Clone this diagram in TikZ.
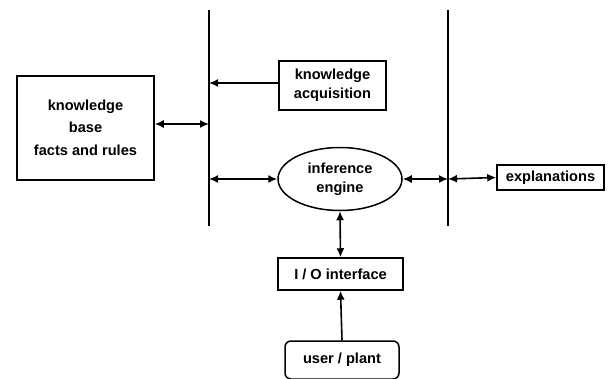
\documentclass[tikz,border=0pt]{standalone}
\usepackage{fontspec}
\setmainfont{Liberation Sans}
\usetikzlibrary{arrows.meta,shapes.geometric}
\begin{document}
\begin{tikzpicture}[x=1pt,y=-1pt,
  box/.style={draw,line width=1.5pt,inner sep=0pt,font=\bfseries\fontsize{14.6}{17}\selectfont,align=center},
  conn/.style={line width=1.6pt,-{Latex[length=9pt,width=8pt]}},
  dconn/.style={line width=1.6pt,{Latex[length=9pt,width=8pt]}-{Latex[length=9pt,width=8pt]}},
  bar/.style={line width=2.8pt}]
\useasboundingbox (0,0) rectangle (610,378);
\coordinate (L1) at (209,10);
\coordinate (L2) at (209,226);
\coordinate (R1) at (448,10);
\coordinate (R2) at (448,226);
\draw[bar] (L1) -- (L2);
\draw[bar] (R1) -- (R2);
\node[box,minimum width=137pt,minimum height=104pt] (kb) at (85.5,128) {knowledge\\[5pt]base\\[6pt]facts and rules};
\node[box,minimum width=107pt,minimum height=49pt] (ka) at (332.5,85.5) {knowledge\\[2pt]acquisition};
\node[box,ellipse,minimum width=124pt,minimum height=63pt] (ie) at (340,179) {inference\\[2pt]engine};
\node[box,minimum width=107pt,minimum height=25pt] (ex) at (550.5,177.5) {explanations};
\node[box,minimum width=125pt,minimum height=32pt] (io) at (340.5,274) {I / O interface};
\node[box,rounded corners=6pt,minimum width=114pt,minimum height=38pt] (up) at (342,360) {user / plant};
\coordinate (kbL) at (209,124);
\coordinate (kaL) at (209,83);
\coordinate (ieL) at (209,179);
\coordinate (ieR) at (448,179);
\draw[dconn] (kb.east |- kbL) -- (kbL);
\draw[conn] (ka.west |- kaL) -- (kaL);
\draw[dconn] (ieL) -- (ie.west);
\draw[dconn] (ie.east) -- (ieR);
\draw[dconn] (ieR) -- (ex.west);
\draw[dconn] (ie.south) -- (io.north);
\draw[conn] (up.north) -- (io.south);
\end{tikzpicture}
\end{document}
